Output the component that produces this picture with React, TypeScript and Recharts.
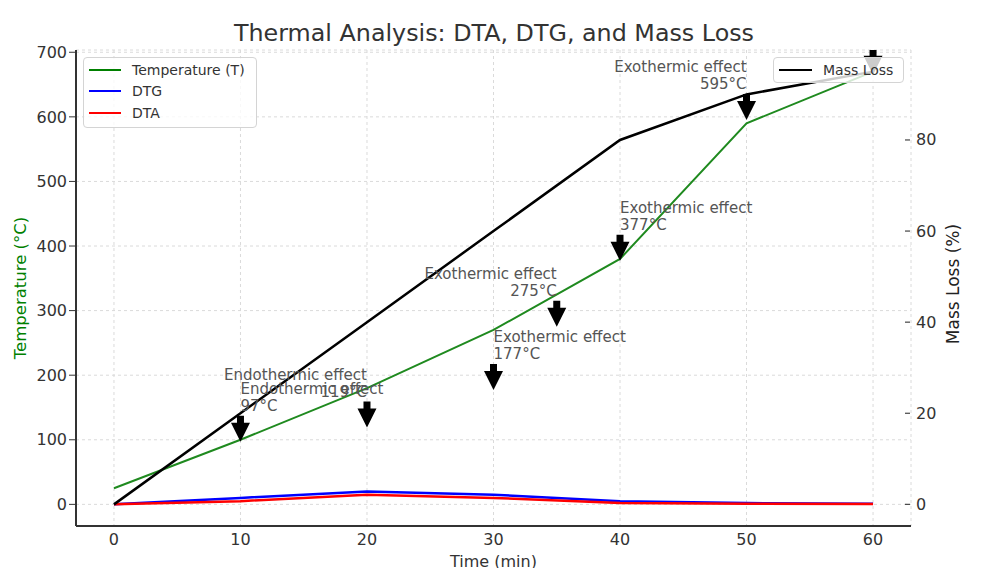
import React from 'react';
import {
  ComposedChart,
  Line,
  Scatter,
  XAxis,
  YAxis,
  CartesianGrid,
} from 'recharts';

const times = [0, 10, 20, 30, 40, 50, 60];
const temperature = [25, 100, 180, 270, 380, 590, 670];
const dtg = [0, 10, 20, 15, 5, 2, 1];
const dta = [0, 5, 15, 10, 2, 1, 0.5];
const massLoss = [0, 20, 40, 60, 80, 90, 95];

const peakTimes = [10, 20, 30, 35, 40, 50, 60];
const peakTemps = [97, 119, 177, 275, 377, 595, 665];
const peakKinds = ['Endothermic', 'Endothermic', 'Exothermic', 'Exothermic', 'Exothermic', 'Exothermic', 'Exothermic'];
const peakAlign = ['start', 'end', 'start', 'end', 'start', 'end', 'start'];

const xTicks = [0, 10, 20, 30, 40, 50, 60];
const tempTicks = [0, 100, 200, 300, 400, 500, 600, 700];
const massTicks = [0, 20, 40, 60, 80];

const data = times.map((t, i) => ({
  time: t,
  temp: temperature[i],
  dtg: dtg[i],
  dta: dta[i],
  mass: massLoss[i],
}));

const peaks = peakTimes.map((t, i) => ({
  time: t,
  peak: peakTemps[i],
  kind: peakKinds[i],
  align: peakAlign[i],
}));

const FONT = '"DejaVu Sans", sans-serif';

const PeakArrow = (props: any) => {
  const { cx, cy, payload } = props;
  if (cx == null || cy == null) return null;
  const path = `M${cx - 3.5},${cy - 26} L${cx + 3.5},${cy - 26} L${cx + 3.5},${cy - 19} L${cx + 9.5},${cy - 19} L${cx},${cy} L${cx - 9.5},${cy - 19} L${cx - 3.5},${cy - 19} Z`;
  return (
    <g>
      <path d={path} fill="#000" />
      <text x={cx} y={cy - 53} textAnchor={payload.align} dominantBaseline="central" fontSize={15} fill="#555" fontFamily={FONT}>
        {`${payload.kind} effect`}
      </text>
      <text x={cx} y={cy - 36} textAnchor={payload.align} dominantBaseline="central" fontSize={15} fill="#555" fontFamily={FONT}>
        {`${payload.peak}°C`}
      </text>
    </g>
  );
};

const RightTick = (props: any) => {
  const { x, y, payload } = props;
  return (
    <g>
      <line x1={x - 8} x2={x - 3} y1={y} y2={y} stroke="#444" strokeWidth={1.2} />
      <text x={x + 3} y={y} dominantBaseline="central" fontSize={16} fill="#333" fontFamily={FONT}>
        {payload.value}
      </text>
    </g>
  );
};

const LegendRow = ({ color, label }: { color: string; label: string }) => (
  <div style={{ display: 'flex', alignItems: 'center', height: 21.5 }}>
    <div style={{ width: 32, height: 2, background: color, marginLeft: 5, marginRight: 11 }} />
    <span>{label}</span>
  </div>
);

export default function App() {
  return (
    <div style={{ position: 'absolute', left: 0, top: 0, width: 1006, height: 568, background: '#fff', fontFamily: FONT }}>
      <div style={{ position: 'absolute', left: 0, top: 19, width: 988, textAlign: 'center', fontSize: 23.8, color: '#333', lineHeight: '28px' }}>
        Thermal Analysis: DTA, DTG, and Mass Loss
      </div>
      <ComposedChart
        width={1006}
        height={568}
        data={data}
        margin={{ top: 50, right: 0, bottom: 0, left: 0 }}
        style={{ fontFamily: FONT }}
      >
        <CartesianGrid yAxisId="left" strokeDasharray="3 3" stroke="#dadada" />
        <XAxis
          dataKey="time"
          type="number"
          domain={[-3, 63]}
          ticks={xTicks}
          height={42}
          tickLine={false}
          axisLine={{ stroke: '#333', strokeWidth: 2 }}
          tick={{ fontSize: 16, fill: '#333' }}
          label={{ value: 'Time (min)', position: 'insideBottom', offset: 1, fontSize: 16, fill: '#333' }}
        />
        <YAxis
          yAxisId="left"
          width={76}
          domain={[-33.5, 703.5]}
          ticks={tempTicks}
          allowDataOverflow
          tickSize={7}
          tickLine={{ stroke: '#333' }}
          axisLine={{ stroke: '#333', strokeWidth: 2 }}
          tick={{ fontSize: 16, fill: '#333' }}
          label={{
            content: ({ viewBox }: any) => {
              const cy = viewBox.y + viewBox.height / 2;
              return (
                <text x={20} y={cy} transform={`rotate(-90, 20, ${cy})`} textAnchor="middle" dominantBaseline="central" fontSize={16.5} fill="green" fontFamily={FONT}>
                  Temperature (°C)
                </text>
              );
            },
          }}
        />
        <YAxis
          yAxisId="right"
          orientation="right"
          width={95}
          domain={[-4.75, 99.75]}
          ticks={massTicks}
          allowDataOverflow
          tickSize={0}
          tickMargin={2}
          tickLine={false}
          axisLine={false}
          tick={<RightTick />}
          label={{
            content: ({ viewBox }: any) => {
              const cy = viewBox.y + viewBox.height / 2 - 4;
              const lx = 953;
              return (
                <text x={lx} y={cy} transform={`rotate(-90, ${lx}, ${cy})`} textAnchor="middle" dominantBaseline="central" fontSize={17} fill="#222" fontFamily={FONT}>
                  Mass Loss (%)
                </text>
              );
            },
          }}
        />
        <Line yAxisId="left" dataKey="temp" stroke="#1f8a1f" strokeWidth={2} dot={false} isAnimationActive={false} />
        <Line yAxisId="left" dataKey="dtg" stroke="#0000ff" strokeWidth={2.5} dot={false} isAnimationActive={false} />
        <Line yAxisId="left" dataKey="dta" stroke="#ff0000" strokeWidth={2.5} dot={false} isAnimationActive={false} />
        <Line yAxisId="right" dataKey="mass" stroke="#000" strokeWidth={2.5} dot={false} isAnimationActive={false} />
        <Scatter yAxisId="left" data={peaks} dataKey="peak" shape={<PeakArrow />} isAnimationActive={false} />
      </ComposedChart>
      <div
        style={{
          position: 'absolute', left: 83, top: 57, width: 172, height: 67, padding: '1px 0',
          background: 'rgba(255,255,255,0.8)', border: '1px solid #d4d4d4', borderRadius: 4,
          fontSize: 14, color: '#333', boxSizing: 'content-box',
        }}
      >
        <LegendRow color="green" label="Temperature (T)" />
        <LegendRow color="#0000ff" label="DTG" />
        <LegendRow color="#ff0000" label="DTA" />
      </div>
      <div
        style={{
          position: 'absolute', left: 773, top: 57, width: 129, height: 24,
          background: 'rgba(255,255,255,0.8)', border: '1px solid #d4d4d4', borderRadius: 4,
          fontSize: 14, color: '#333', display: 'flex', alignItems: 'center',
        }}
      >
        <div style={{ width: 33, height: 2.5, background: '#000', marginLeft: 5, marginRight: 11 }} />
        <span>Mass Loss</span>
      </div>
    </div>
  );
}
